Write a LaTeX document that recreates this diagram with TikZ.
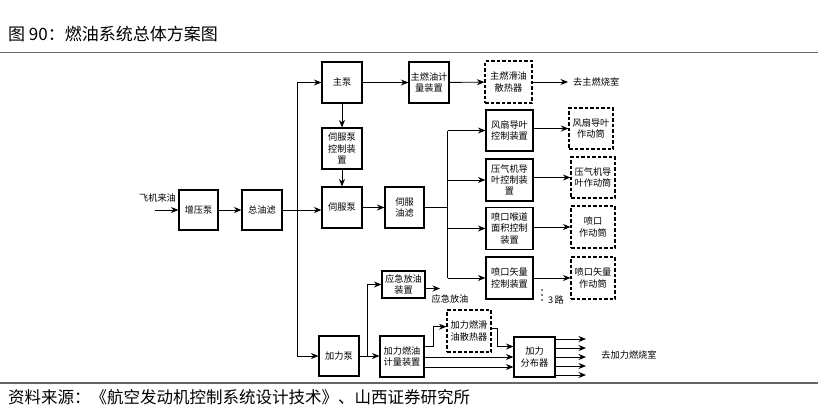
\documentclass[tikz,border=0pt]{standalone}
\usepackage{fontspec}
\newfontfamily\cjk{Noto Sans CJK SC}
\usetikzlibrary{arrows.meta}
\newcommand{\bxf}{\cjk\fontsize{9.2}{11.2}\selectfont}
\begin{document}
\begin{tikzpicture}[x=1pt,y=-1pt,
  box/.style={draw, line width=1.1pt, inner sep=0pt, align=center, font=\bxf},
  dbox/.style={box, dash pattern=on 3.5pt off 2pt},
  sz/.style 2 args={minimum width=#1pt, minimum height=#2pt},
  arr/.style={line width=0.9pt, -{Stealth[length=7.5pt,width=6pt]}},
  ln/.style={line width=0.9pt},
  lbl/.style={inner sep=0pt, font=\bxf},
  rulestyle/.style={line width=1.5pt, draw=black!60}]
\useasboundingbox (0,0) rectangle (822,410);

% title and rules
\node[anchor=west, inner sep=0pt, font=\cjk\fontsize{17}{17}\selectfont] (title) at (8,34) {图 90：燃油系统总体方案图};
\draw[rulestyle] (0,52.5) -- (818,52.5);
\draw[rulestyle] (0,383) -- (818,383);
\node[anchor=west, inner sep=0pt, font=\cjk\fontsize{16.5}{16.5}\selectfont] (src) at (8,397) {资料来源：《航空发动机控制系统设计技术》、山西证券研究所};

% boxes
\node[box, sz={40}{41}] (zb) at (342,82.5) {主泵};
\node[box, sz={40}{41}] (sfkz) at (342,148.5) {伺服泵\\控制装\\置};
\node[box, sz={40}{41}] (sfb) at (342,207.5) {伺服泵};
\node[box, sz={39}{40}] (zyb) at (198.5,210) {增压泵};
\node[box, sz={40}{40}] (zyl) at (262,210) {总油滤};
\node[box, sz={40}{40}] (jlb) at (339,356) {加力泵};
\node[box, sz={40}{41}] (jl) at (429,82.5) {主燃油计\\量装置};
\node[dbox, sz={47}{42}] (sr) at (508.5,82) {主燃滑油\\散热器};
\node[box, sz={39}{41}] (sfyl) at (404.5,207.5) {伺服\\油滤};
\node[box, sz={47}{41}] (fs) at (509.5,130.5) {风扇导叶\\控制装置};
\node[box, sz={47}{42}] (yq) at (509.5,180) {压气机导\\叶控制装\\置};
\node[box, sz={47}{42}] (hd) at (509.5,228.5) {喷口喉道\\面积控制\\装置};
\node[box, sz={47}{42}] (sl) at (509.5,278) {喷口矢量\\控制装置};
\node[dbox, sz={44}{41}] (fsd) at (591,128.5) {风扇导叶\\作动筒};
\node[dbox, sz={44}{41}] (yqd) at (593,177.5) {压气机导\\叶作动筒};
\node[dbox, sz={44}{42}] (hdd) at (593,227) {喷口\\作动筒};
\node[dbox, sz={44}{42}] (sld) at (593,278) {喷口矢量\\作动筒};
\node[box, sz={43}{27}] (yj) at (403.5,284.5) {应急放油\\装置};
\node[box, sz={44}{41}] (jljl) at (402,356.5) {加力燃油\\计量装置};
\node[dbox, sz={44}{42}] (jlsr) at (469,331) {加力燃滑\\油散热器};
\node[box, sz={41}{40}] (fbq) at (534.5,357) {加力\\分布器};

% labels
\node[lbl] (fj) at (157.5,197.5) {飞机来油};
\node[lbl, anchor=west] (qz) at (573,81.5) {去主燃烧室};
\node[lbl] (yjt) at (450,299) {应急放油};
\node[lbl] (sanlu) at (556,300) {3\,路};
\node[lbl] (qj) at (629,355) {去加力燃烧室};
\foreach \yy in {290,295,300} \fill (542,\yy) circle (0.8pt);

% connectors
\coordinate (in) at (155,210);
\draw[arr] (in) -- (zyb.west);
\draw[arr] (zyb) -- (zyl);
\draw[arr] (zyl.east) -- (zyl.east -| sfb.west);
\coordinate (trunk) at (297,0);
\draw[arr] (zb.west -| trunk) -- (zb.west);
\draw[arr] (zb.west -| trunk) -- (jlb.west -| trunk) -- (jlb.west);
\draw[arr] (zb) -- (sfkz);
\draw[arr] (sfkz) -- (sfb);
\draw[arr] (zb) -- (jl);
\draw[arr] (jl) -- (sr);
\draw[arr, shorten >=5pt] (sr.east) -- (sr.east -| qz.west);
\draw[arr] (sfb) -- (sfyl);
\coordinate (bus) at (447.7,0);
\draw[ln] (sfyl.east) -- (sfyl.east -| bus);
\draw[ln] (fs.west -| bus) -- (sl.west -| bus);
\foreach \b in {fs,yq,hd,sl} \draw[arr] (\b.west -| bus) -- (\b.west);
\draw[arr] (fsd.west -| fs.east) -- (fsd.west);
\draw[arr] (yqd.west -| yq.east) -- (yqd.west);
\draw[arr] (hdd.west -| hd.east) -- (hdd.west);
\draw[arr] (sld.west -| sl.east) -- (sld.west);

\coordinate (br) at (367,0);
\draw[arr] (jlb.east) -- (jlb.east -| jljl.west);
\draw[arr] (jlb.east -| br) -- (yj.west -| br) -- (yj.west);
\coordinate (yjend) at (440,288.5);
\draw[arr] (yj.east |- yjend) -- (yjend);
\draw[arr] ([yshift=10pt]jljl.east) -- ++(9,0) |- ([yshift=4.3pt]jlsr.west);
\draw[arr] ([yshift=3pt]jlsr.east) -- ++(6,0) |- ([yshift=10.5pt]fbq.west);
\draw[arr] ([yshift=-0.5pt]jljl.east) -- ([yshift=-0.5pt]jljl.east -| fbq.west);
\draw[arr] ([yshift=-10.5pt]jljl.east) -- ([yshift=-10.5pt]jljl.east -| fbq.west);
\coordinate (fo) at (586,357);
\foreach \d in {18,9,0,-9,-18} \draw[arr] ([yshift=\d pt]fbq.east) -- ([yshift=\d pt]fo);
\end{tikzpicture}
\end{document}
